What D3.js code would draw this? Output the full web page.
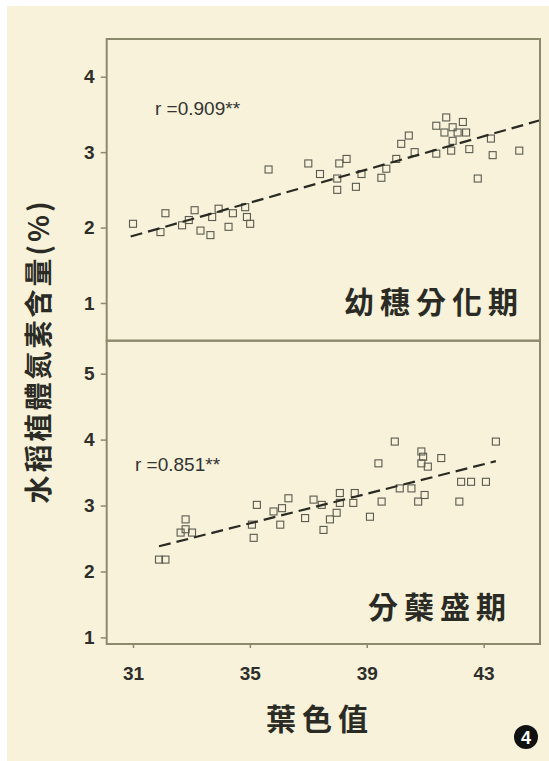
<!DOCTYPE html>
<html>
<head>
<meta charset="utf-8">
<script src="https://cdn.jsdelivr.net/npm/d3@7"></script>
<style>
  body { margin: 0; background: #fff; }
</style>
</head>
<body>
<div id="chart"></div>
<script>
// ---- data ----
const xTicks = [31, 35, 39, 43];
const yTicksTop = [1, 2, 3, 4];
const yTicksBottom = [1, 2, 3, 4, 5];

// 幼穗分化期 (panicle initiation)
const topLeaf = [31.0, 32.11, 31.94, 32.68, 32.91, 33.11, 33.31, 33.65, 33.71, 33.93, 34.27, 34.42, 34.84, 34.9, 35.01,
  35.64, 37.0, 37.4, 37.99, 38.06, 38.31, 37.99, 38.63, 38.82, 39.5, 39.67, 40.01, 40.18, 40.44, 40.64,
  41.38, 41.38, 41.72, 41.66, 41.94, 42.11, 42.29, 42.4, 41.94, 41.89, 42.51, 42.8, 43.25, 43.31, 44.22];
const topN = [2.05, 2.19, 1.94, 2.03, 2.10, 2.23, 1.96, 1.90, 2.14, 2.25, 2.01, 2.19, 2.27, 2.14, 2.05,
  2.77, 2.85, 2.71, 2.50, 2.85, 2.91, 2.65, 2.54, 2.71, 2.66, 2.78, 2.91, 3.11, 3.22, 3.00,
  2.98, 3.35, 3.46, 3.26, 3.33, 3.26, 3.40, 3.26, 3.15, 3.02, 3.04, 2.65, 3.18, 2.96, 3.02];
const topFit = [0.110, -1.52];        // slope, intercept
const topFitRange = [30.92, 44.9];

// 分蘖盛期 (maximum tillering)
const bottomLeaf = [31.89, 32.11, 32.8, 32.8, 33.02, 32.63, 35.07, 35.13, 35.24, 35.81, 36.04, 36.1, 36.32, 36.89,
  37.18, 37.46, 37.52, 37.74, 37.97, 38.08, 38.08, 38.59, 38.54, 39.11, 39.4, 39.51, 39.96, 40.13, 40.53,
  40.76, 40.87, 40.93, 40.87, 41.09, 40.98, 41.55, 42.17, 42.23, 42.57, 43.08, 43.42];
const bottomN = [2.18, 2.18, 2.79, 2.64, 2.59, 2.59, 2.71, 2.51, 3.01, 2.91, 2.71, 2.96, 3.11, 2.81,
  3.09, 3.01, 2.63, 2.79, 2.89, 3.04, 3.19, 3.19, 3.04, 2.83, 3.64, 3.06, 3.97, 3.26, 3.26,
  3.06, 3.82, 3.74, 3.64, 3.59, 3.16, 3.72, 3.06, 3.36, 3.36, 3.36, 3.97];
const bottomFit = [0.112, -1.19];
const bottomFitRange = [31.89, 43.42];

// ---- layout ----
const W = 549, H = 761;
const plotLeft = 106.7, plotRight = 540, plotTop = 39, plotMid = 340.7, plotBottom = 644;
const frameColor = "#8c8a6c";

const svg = d3.select("#chart").append("svg")
  .attr("width", W).attr("height", H);

// beige paper
svg.append("rect").attr("x", 7).attr("y", 6).attr("width", W - 7).attr("height", H - 6)
  .attr("fill", "#f7f2d9");

const x = d3.scaleLinear().domain([30.1, 44.93]).range([plotLeft, plotRight]);

function drawPanel(y0, y1, yDomain, yTicks, xs, ys, fit, fitRange, rText, rPos, label, labelPos) {
  const y = d3.scaleLinear().domain(yDomain).range([y1, y0]);
  const g = svg.append("g");

  // y axis
  const yAxis = g.append("g")
    .attr("transform", `translate(${plotLeft},0)`)
    .call(d3.axisLeft(y).tickValues(yTicks).tickFormat(d3.format("d"))
      .tickSize(6).tickSizeOuter(0).tickPadding(6));
  yAxis.select(".domain").remove();
  yAxis.selectAll("line").attr("stroke", frameColor).attr("stroke-width", 1.5);
  yAxis.selectAll("text")
    .attr("font-family", "Arial, 'Liberation Sans', sans-serif")
    .attr("font-size", 19).attr("font-weight", "bold").attr("fill", "#2e2e2a");

  // scatter squares
  const s = 7;
  g.selectAll("rect.pt").data(d3.range(xs.length)).enter().append("rect")
    .attr("class", "pt")
    .attr("x", i => x(xs[i]) - s / 2)
    .attr("y", i => y(ys[i]) - s / 2)
    .attr("width", s).attr("height", s)
    .attr("fill", "none").attr("stroke", "#5a5a50").attr("stroke-width", 1.1);

  // fitted line
  const line = d3.line().x(d => x(d)).y(d => y(fit[0] * d + fit[1]));
  g.append("path").datum(fitRange)
    .attr("d", line)
    .attr("fill", "none").attr("stroke", "#2a2a24").attr("stroke-width", 2.2)
    .attr("stroke-dasharray", "12,6");

  // frame
  g.append("rect").attr("x", plotLeft).attr("y", y0).attr("width", plotRight - plotLeft).attr("height", y1 - y0)
    .attr("fill", "none").attr("stroke", frameColor).attr("stroke-width", 2);

  // r value
  g.append("text").attr("x", rPos[0]).attr("y", rPos[1])
    .attr("font-family", "Arial, 'Liberation Sans', sans-serif")
    .attr("font-size", 19).attr("fill", "#333")
    .text(rText);

  // stage label
  g.append("text").attr("x", labelPos[0]).attr("y", labelPos[1])
    .attr("text-anchor", "end")
    .attr("font-family", "'Noto Sans CJK TC', 'Noto Sans CJK SC', sans-serif")
    .attr("font-size", 30).attr("font-weight", "bold").attr("letter-spacing", 6)
    .attr("fill", "#2b2b26")
    .text(label);
}

drawPanel(plotTop, plotMid, [0.5, 4.5], yTicksTop, topLeaf, topN, topFit, topFitRange,
  "r =0.909**", [155, 115], "幼穗分化期", [524, 313]);
drawPanel(plotMid, plotBottom, [0.9, 5.5], yTicksBottom, bottomLeaf, bottomN, bottomFit, bottomFitRange,
  "r =0.851**", [135, 471], "分蘖盛期", [512, 618]);

// x axis
const xAxis = svg.append("g")
  .attr("transform", `translate(0,${plotBottom})`)
  .call(d3.axisBottom(x).tickValues(xTicks).tickFormat(d3.format("d"))
    .tickSize(4).tickSizeOuter(0).tickPadding(19));
xAxis.select(".domain").remove();
xAxis.selectAll("line").attr("stroke", frameColor).attr("stroke-width", 1.5);
xAxis.selectAll("text")
  .attr("font-family", "Arial, 'Liberation Sans', sans-serif")
  .attr("font-size", 19).attr("font-weight", "bold").attr("fill", "#2e2e2a");

// axis titles
svg.append("text")
  .attr("x", 320).attr("y", 730)
  .attr("text-anchor", "middle")
  .attr("font-family", "'Noto Sans CJK TC', sans-serif")
  .attr("font-size", 30).attr("font-weight", "bold").attr("letter-spacing", 6)
  .attr("fill", "#2b2b26")
  .text("葉色值");

svg.append("text")
  .attr("transform", "translate(49,351) rotate(-90)")
  .attr("text-anchor", "middle")
  .attr("font-family", "'Noto Sans CJK TC', sans-serif")
  .attr("font-size", 28).attr("font-weight", "bold").attr("letter-spacing", 3)
  .attr("fill", "#2b2b26")
  .text("水稻植體氮素含量(%)");

// figure number badge
svg.append("circle").attr("cx", 526).attr("cy", 737).attr("r", 12).attr("fill", "#111");
svg.append("text").attr("x", 526).attr("y", 743.5)
  .attr("text-anchor", "middle")
  .attr("font-family", "Arial, 'Liberation Sans', sans-serif")
  .attr("font-size", 18).attr("font-weight", "bold").attr("fill", "#fff")
  .text("4");
</script>
</body>
</html>
